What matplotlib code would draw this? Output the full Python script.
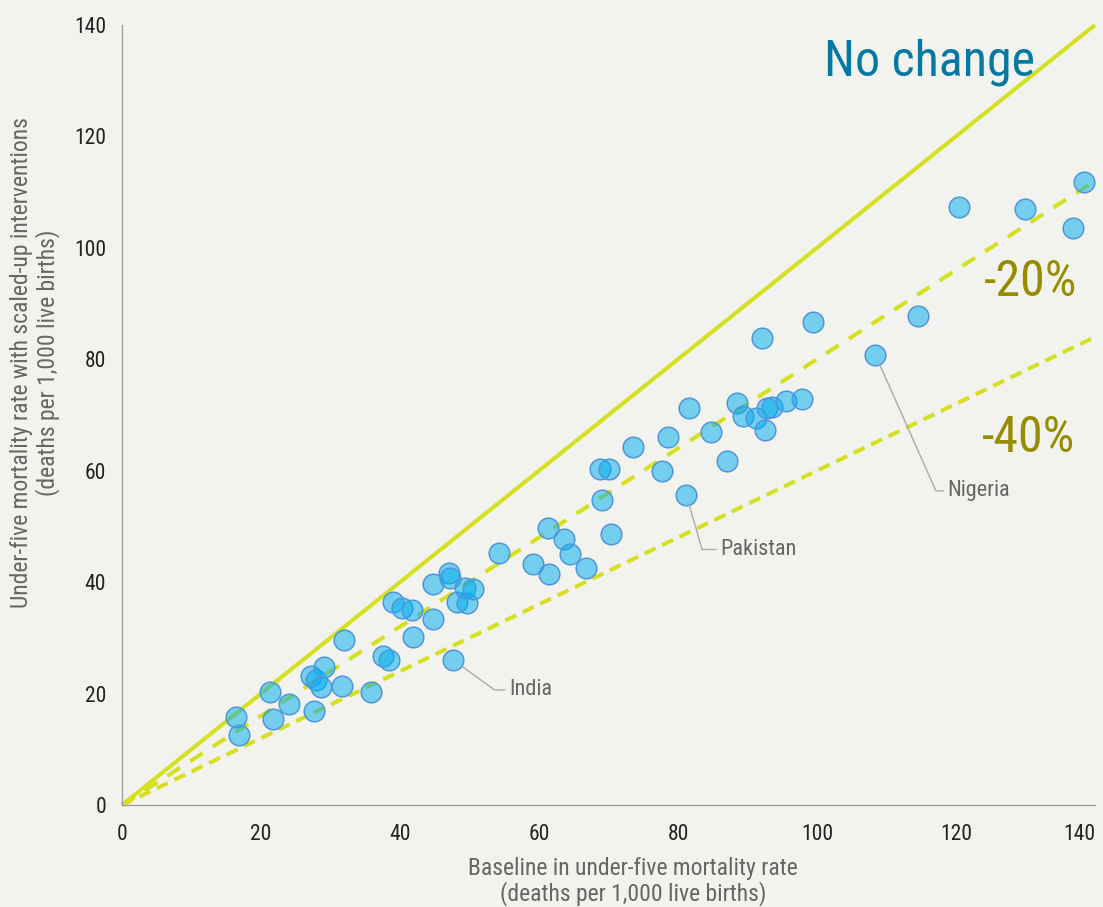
import matplotlib
matplotlib.use('Agg')
import matplotlib.pyplot as plt
from matplotlib import font_manager as fm

# Baseline vs scaled-up under-five mortality (deaths per 1,000 live births)
baseline = [16.4, 16.8, 21.3, 21.7, 24.0, 27.2, 27.9, 29.1, 28.6, 27.6,
            32.0, 31.7, 35.8, 37.6, 38.4, 39.0, 40.3, 41.7, 41.9, 44.8,
            44.8, 47.1, 47.2, 48.2, 49.6, 49.4, 50.5, 54.2, 59.1, 61.4,
            61.3, 63.6, 64.5, 66.7, 69.0, 70.3, 68.8, 70.1, 73.6, 78.5,
            77.7, 84.8, 87.0, 81.6, 88.5, 89.3, 91.2, 92.5, 92.8, 93.5,
            95.5, 97.9, 92.1, 99.4, 114.6, 120.4, 130.0, 138.4, 136.8]
scaled = [15.7, 12.6, 20.3, 15.4, 18.1, 23.2, 22.4, 24.7, 21.2, 16.8,
          29.6, 21.4, 20.3, 26.8, 26.1, 36.5, 35.3, 35.0, 30.2, 39.6,
          33.3, 41.6, 40.8, 36.4, 36.2, 38.9, 38.7, 45.2, 43.3, 41.5,
          49.7, 47.8, 45.1, 42.6, 54.8, 48.6, 60.3, 60.3, 64.3, 66.1,
          60.0, 67.0, 61.8, 71.2, 72.2, 69.8, 69.4, 67.3, 71.2, 71.4,
          72.5, 72.8, 83.9, 86.6, 87.7, 107.4, 107.0, 111.8, 103.6]

# Labelled countries
country_names = ['India', 'Pakistan', 'Nigeria']
country_baseline = [47.7, 81.2, 108.4]
country_scaled = [26.0, 55.7, 80.8]

# Reference lines: no change, -20%, -40%
ref_slopes = [1.0, 0.8, 0.6]
ref_labels = ['No change', '-20%', '-40%']
ticks = [0, 20, 40, 60, 80, 100, 120, 140]

# Look for a narrow/condensed font, fall back to Liberation Sans
names = {f.name for f in fm.fontManager.ttflist}
font_name = None
for cand in ['Roboto Condensed', 'Liberation Sans Narrow', 'Open Sans Condensed',
             'DejaVu Sans Condensed', 'Noto Sans Condensed']:
    if cand in names:
        font_name = cand
        break
stretch = 'normal'
if font_name is None:
    for f in fm.fontManager.ttflist:
        if 'condensed' in str(f.stretch) and f.style == 'normal' and f.weight in (400, 'normal', 'regular'):
            font_name, stretch = f.name, f.stretch
            break
k = 1.0
if font_name is None:
    font_name = 'Liberation Sans'
    k = 0.85
plt.rcParams['font.family'] = [font_name, 'DejaVu Sans']
plt.rcParams['font.stretch'] = stretch

bg = '#f2f2ee'
line_col = '#d5e020'
grey_txt = '#666666'

fig = plt.figure(figsize=(11.03, 9.07), dpi=100, facecolor=bg)
ax = fig.add_axes([0.1106, 0.1125, 0.8821, 0.8600])
ax.set_facecolor(bg)

xs = [0, 140]
ax.plot(xs, [ref_slopes[0] * x for x in xs], color=line_col, lw=2.9,
        solid_capstyle='butt', zorder=2, clip_on=False)
ax.plot(xs, [ref_slopes[1] * x for x in xs], color=line_col, lw=2.9,
        dashes=(3.7, 3.0), zorder=2, clip_on=False)
ax.plot(xs, [ref_slopes[2] * x for x in xs], color=line_col, lw=2.9,
        dashes=(3.0, 1.8), zorder=2, clip_on=False)

ax.scatter(baseline + country_baseline, scaled + country_scaled, s=220,
           facecolors=(0.0, 0.682, 0.937, 0.52), edgecolors='#5096da',
           linewidths=1.1, zorder=3)

# Leader lines for the labelled countries
offsets = [(40, -21.5), (24.5, -39.5), (52, -98)]
angles = [-36, -74, -66]
for name, x, y, off, ang in zip(country_names, country_baseline, country_scaled, offsets, angles):
    ax.annotate(name, xy=(x, y), xytext=off, textcoords='offset points',
                ha='left', va='center', fontsize=16 * k, color=grey_txt,
                arrowprops=dict(arrowstyle='-', color='#aaaaaa', lw=1,
                                relpos=(0, 0.5), shrinkA=1, shrinkB=8,
                                connectionstyle='angle,angleA=0,angleB=%d' % ang))

# Big labels on the reference lines
ax.text(131.4, 131.0, ref_labels[0], ha='right', va='baseline',
        fontsize=36 * k, color='#0679a3')
ax.text(137.4, 91.4, ref_labels[1], ha='right', va='baseline',
        fontsize=36 * k, color='#968c00')
ax.text(137.1, 63.4, ref_labels[2], ha='right', va='baseline',
        fontsize=36 * k, color='#968c00')

ax.set_xlim(0, 140)
ax.set_ylim(0, 140)
ax.set_xticks(ticks)
ax.set_yticks(ticks)
ax.tick_params(length=0, labelsize=15.5 * k, labelcolor='#222222')
ax.tick_params(axis='x', pad=14)
ax.tick_params(axis='y', pad=11.5)
ax.get_xticklabels()[-1].set_ha('right')

for side in ['top', 'right']:
    ax.spines[side].set_visible(False)
for side in ['left', 'bottom']:
    ax.spines[side].set_color('#999999')
    ax.spines[side].set_linewidth(0.9)

ax.set_xlabel('Baseline in under-five mortality rate\n(deaths per 1,000 live births)',
              fontsize=17 * k, color=grey_txt, linespacing=1.05)
ax.xaxis.set_label_coords(0.525, -0.067)
ax.set_ylabel('Under-five mortality rate with scaled-up interventions\n(deaths per 1,000 live births)',
              fontsize=17 * k, color=grey_txt, linespacing=1.1)
ax.yaxis.set_label_coords(-0.064, 0.567)

fig.savefig('out.png', dpi=100, facecolor=bg)
